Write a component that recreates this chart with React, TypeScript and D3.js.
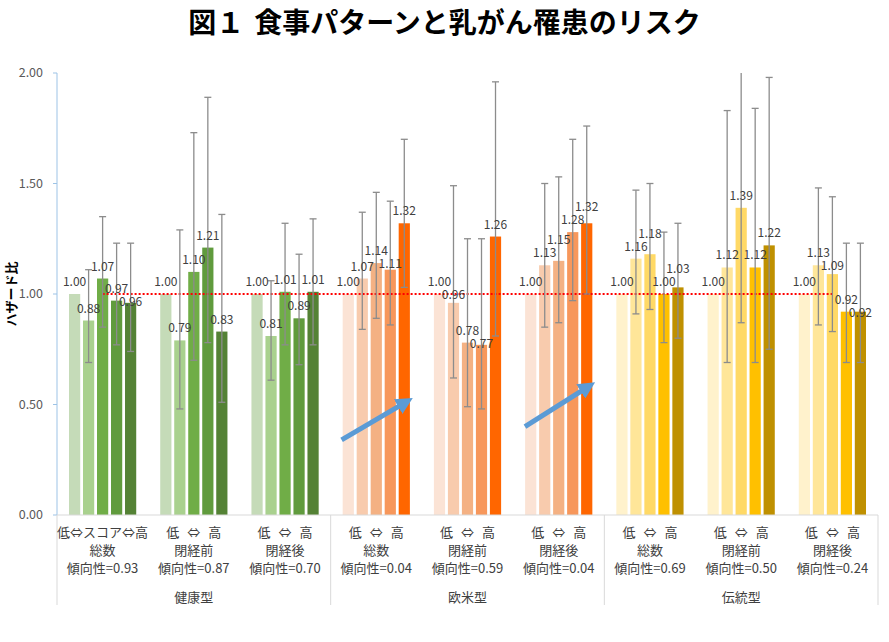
import * as d3 from "d3";

// 食事パターンと乳がん罹患 — hazard ratios by quintile
const patterns = ["健康型", "欧米型", "伝統型"];
const subgroups = ["総数", "閉経前", "閉経後"];
const trendP = ["0.93", "0.87", "0.70", "0.04", "0.59", "0.04", "0.69", "0.50", "0.24"];

const hazard = [
  [1.0, 0.88, 1.07, 0.97, 0.96],
  [1.0, 0.79, 1.1, 1.21, 0.83],
  [1.0, 0.81, 1.01, 0.89, 1.01],
  [1.0, 1.07, 1.14, 1.11, 1.32],
  [1.0, 0.96, 0.78, 0.77, 1.26],
  [1.0, 1.13, 1.15, 1.28, 1.32],
  [1.0, 1.16, 1.18, 1.0, 1.03],
  [1.0, 1.12, 1.39, 1.12, 1.22],
  [1.0, 1.13, 1.09, 0.92, 0.92],
];
const ciLow = [
  [null, 0.69, 0.85, 0.77, 0.74],
  [null, 0.48, 0.7, 0.78, 0.51],
  [null, 0.61, 0.77, 0.68, 0.77],
  [null, 0.84, 0.89, 0.86, 1.03],
  [null, 0.62, 0.49, 0.48, 0.81],
  [null, 0.85, 0.87, 0.97, 1.0],
  [null, 0.91, 0.93, 0.78, 0.8],
  [null, 0.69, 0.87, 0.69, 0.75],
  [null, 0.86, 0.83, 0.69, 0.69],
];
const ciHigh = [
  [null, 1.11, 1.35, 1.23, 1.23],
  [null, 1.29, 1.73, 1.89, 1.36],
  [null, 1.06, 1.32, 1.18, 1.34],
  [null, 1.37, 1.46, 1.42, 1.7],
  [null, 1.49, 1.25, 1.25, 1.96],
  [null, 1.5, 1.53, 1.7, 1.76],
  [null, 1.47, 1.5, 1.28, 1.32],
  [null, 1.83, 2.21, 1.84, 1.98],
  [null, 1.48, 1.44, 1.23, 1.23],
];
const yTicks = [0, 0.5, 1.0, 1.5, 2.0];

const greens = ["#c5dbb8", "#a9d18e", "#70ad47", "#609b3d", "#548235"];
const oranges = ["#fbe3d5", "#f8cbad", "#f4b183", "#f7975b", "#ff6600"];
const yellows = ["#fff2cc", "#ffe699", "#ffd966", "#ffc000", "#bf9000"];
const palettes = [greens, oranges, yellows];

// trend arrows for 欧米型 (category index, position within category, HR level)
const trendArrows = [
  { cat: 3, t0: 0.12, t1: 0.82, v0: 0.34, v1: 0.51 },
  { cat: 5, t0: 0.13, t1: 0.82, v0: 0.4, v1: 0.58 },
];

const W = 889;
const H = 642;
const margin = { left: 57, right: 11, top: 73, bottom: 127 };

export default function App() {
  const cats = hazard.map((_, i) => i);
  const x = d3
    .scaleBand<number>()
    .domain(cats)
    .range([margin.left, W - margin.right]);
  const cw = x.bandwidth();
  const inner = d3
    .scaleBand<number>()
    .domain([0, 1, 2, 3, 4])
    .range([12, cw - 12])
    .paddingInner(0.2);
  const y = d3
    .scaleLinear()
    .domain([0, 2])
    .range([H - margin.bottom, margin.top]);
  const y0 = y(0);
  const textColor = "#404040";
  const font = "'Noto Sans CJK JP', 'Liberation Sans', sans-serif";

  // label baselines: sit above the bar, step up/down when crowding the neighbour
  const labelY = hazard.map(vals => {
    const out: number[] = [];
    vals.forEach((v, k) => {
      let ly = y(v) - 8;
      if (k > 0) {
        const prev = out[k - 1];
        if (Math.abs(ly - prev) < 12) {
          ly = v > vals[k - 1] ? prev - 13 : prev + 13;
        }
      }
      out.push(ly);
    });
    return out;
  });

  return (
    <svg
      width={W}
      height={H}
      style={{ position: "absolute", left: 0, top: 0, background: "#fff" }}
      fontFamily={font}
    >
      <defs>
        <marker
          id="arrowHead"
          viewBox="0 0 10 10"
          refX="5"
          refY="5"
          markerWidth="3.4"
          markerHeight="3.4"
          orient="auto"
        >
          <path d="M0,0 L10,5 L0,10 z" fill="#5b9bd5" />
        </marker>
      </defs>

      <text x={W / 2} y={33} textAnchor="middle" fontSize={28} fontWeight="bold" fill="#000">
        <tspan>図１</tspan>
        <tspan dx={10}>食事パターンと乳がん罹患のリスク</tspan>
      </text>

      {/* y axis */}
      <line x1={margin.left} x2={margin.left} y1={y(2)} y2={y0} stroke="#9dc3e6" />
      {yTicks.map(t => (
        <g key={t}>
          <line x1={margin.left - 4} x2={margin.left} y1={y(t)} y2={y(t)} stroke="#9dc3e6" />
          <text
            x={margin.left - 14}
            y={y(t)}
            dy="0.35em"
            textAnchor="end"
            fontSize={12.5}
            fill="#595959"
          >
            {t.toFixed(2)}
          </text>
        </g>
      ))}
      <text
        transform={`translate(11,${y(1)}) rotate(-90)`}
        dy="0.35em"
        textAnchor="middle"
        fontSize={13}
        fontWeight="bold"
        fill="#000"
      >
        ハザード比
      </text>

      {/* bars */}
      {hazard.map((vals, c) =>
        vals.map((v, k) => (
          <rect
            key={`b${c}-${k}`}
            x={x(c)! + inner(k)!}
            y={y(v)}
            width={inner.bandwidth()}
            height={y0 - y(v)}
            fill={palettes[Math.floor(c / 3)][k]}
          />
        ))
      )}

      {/* reference line at HR = 1 */}
      <line
        x1={x(0)! + cw / 2}
        x2={x(8)! + cw / 2}
        y1={y(1)}
        y2={y(1)}
        stroke="#ff0000"
        strokeWidth={2}
        strokeDasharray="2,2"
      />

      {/* error bars */}
      {hazard.map((vals, c) =>
        vals.map((_, k) => {
          const lo = ciLow[c][k];
          const hi = ciHigh[c][k];
          if (lo == null || hi == null) return null;
          const cx = x(c)! + inner(k)! + inner.bandwidth() / 2;
          const top = Math.min(hi, 2);
          return (
            <g key={`e${c}-${k}`} stroke="#8c8c8c" strokeWidth={1.3}>
              <line x1={cx} x2={cx} y1={y(lo)} y2={y(top)} />
              <line x1={cx - 3.5} x2={cx + 3.5} y1={y(lo)} y2={y(lo)} />
              {hi <= 2 && <line x1={cx - 3.5} x2={cx + 3.5} y1={y(hi)} y2={y(hi)} />}
            </g>
          );
        })
      )}

      {/* value labels */}
      {hazard.map((vals, c) =>
        vals.map((v, k) => (
          <text
            key={`l${c}-${k}`}
            x={x(c)! + inner(k)! + inner.bandwidth() / 2}
            y={labelY[c][k]}
            textAnchor="middle"
            fontSize={12}
            fill={textColor}
          >
            {v.toFixed(2)}
          </text>
        ))
      )}

      {/* trend arrows */}
      {trendArrows.map((a, i) => (
        <line
          key={`a${i}`}
          x1={x(a.cat)! + a.t0 * cw}
          y1={y(a.v0)}
          x2={x(a.cat)! + a.t1 * cw}
          y2={y(a.v1)}
          stroke="#5b9bd5"
          strokeWidth={5}
          markerEnd="url(#arrowHead)"
        />
      ))}

      {/* x axis */}
      <line x1={margin.left} x2={W - margin.right} y1={y0} y2={y0} stroke="#d9d9d9" />
      {[0, 3, 6, 9].map(c => {
        const xx = c < 9 ? x(c)! : x(8)! + cw;
        return <line key={`s${c}`} x1={xx} x2={xx} y1={y0} y2={y0 + 90} stroke="#d9d9d9" />;
      })}
      {cats.map(c => {
        const cx = x(c)! + cw / 2;
        return (
          <g key={`x${c}`} fontSize={13} fill={textColor} textAnchor="middle">
            {c === 0 ? (
              <text x={cx} y={y0 + 22}>
                低⇔スコア⇔高
              </text>
            ) : (
              <text x={cx} y={y0 + 22}>
                <tspan>低</tspan>
                <tspan dx={8}>⇔</tspan>
                <tspan dx={8}>高</tspan>
              </text>
            )}
            <text x={cx} y={y0 + 40}>
              {subgroups[c % 3]}
            </text>
            <text x={cx} y={y0 + 58}>
              傾向性={trendP[c]}
            </text>
          </g>
        );
      })}
      {patterns.map((p, g) => (
        <text
          key={p}
          x={x(g * 3 + 1)! + cw / 2}
          y={y0 + 87}
          textAnchor="middle"
          fontSize={13}
          fill={textColor}
        >
          {p}
        </text>
      ))}
    </svg>
  );
}
